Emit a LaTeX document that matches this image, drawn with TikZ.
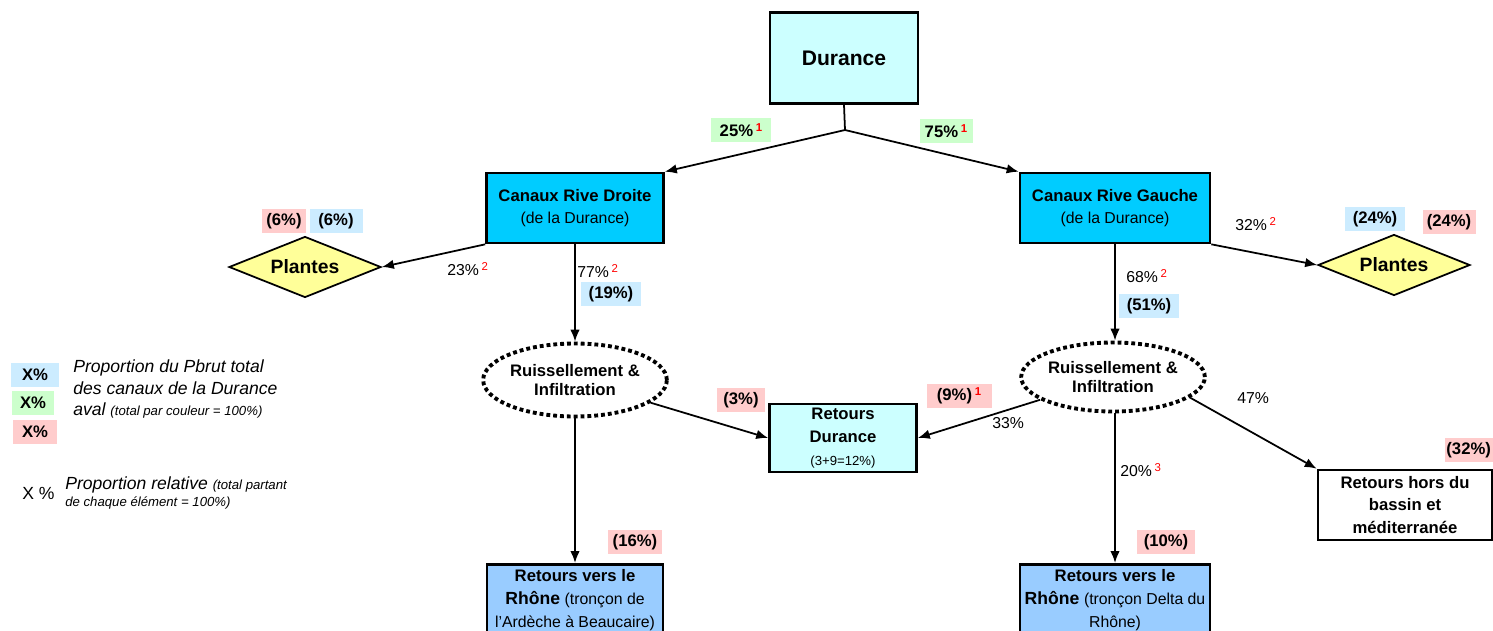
\documentclass[tikz,border=0pt]{standalone}
\usepackage{fontspec}
\setmainfont{Liberation Sans}
\usetikzlibrary{arrows.meta,shapes.geometric}
\definecolor{PaleCyan}{HTML}{CCFFFF}
\definecolor{CanalBlue}{HTML}{00CCFF}
\definecolor{PlantYellow}{HTML}{FFFF99}
\definecolor{RhoneBlue}{HTML}{99CCFF}
\definecolor{TagBlue}{HTML}{CCECFF}
\definecolor{TagGreen}{HTML}{CCFFCC}
\definecolor{TagPink}{HTML}{FFCCCC}
\definecolor{NoteRed}{HTML}{FF0000}
\newcommand{\refnum}[1]{\,\raisebox{0.6ex}{\textcolor{NoteRed}{\fontsize{6.5}{7}\selectfont #1}}}
\newcommand{\bsize}{\fontsize{9.5}{13}\selectfont}

\begin{document}
\begin{tikzpicture}[x=0.02cm,y=-0.02cm,
    box/.style={draw,line width=1.5pt,align=center,inner sep=2pt,font=\bfseries\bsize},
    plant/.style={diamond,aspect=2.5,draw,line width=1pt,fill=PlantYellow,minimum width=3.04cm,
                  minimum height=1.22cm,inner sep=0pt,font=\bfseries\fontsize{11}{13}\selectfont},
    ruis/.style={ellipse,draw,line width=2.2pt,dash pattern=on 2.2pt off 1.7pt,align=center,
                 inner sep=0pt,font=\bfseries\fontsize{9.5}{11.3}\selectfont},
    tag/.style={inner sep=0pt,minimum height=0.47cm,font=\bfseries\fontsize{9.5}{11}\selectfont},
    pct/.style={anchor=west,inner sep=0pt,font=\fontsize{9}{11}\selectfont},
    arr/.style={-{Latex[length=2.4mm,width=1.9mm]},line width=1pt}]
    \useasboundingbox (0,0) rectangle (1493,630);
    \fill[white] (0,0) rectangle (1493,630);

    \node[box,fill=PaleCyan,minimum width=2.96cm,minimum height=1.82cm,
          font=\bfseries\fontsize{12}{14}\selectfont] (dur) at (844,58) {Durance};
    \node[box,fill=CanalBlue,minimum width=3.54cm,minimum height=1.4cm] (crd) at (575,208)
        {Canaux Rive Droite\\{\mdseries\fontsize{9}{13}\selectfont(de la Durance)}};
    \node[box,fill=CanalBlue,minimum width=3.8cm,minimum height=1.4cm] (crg) at (1115,208)
        {Canaux Rive Gauche\\{\mdseries\fontsize{9}{13}\selectfont(de la Durance)}};
    \node[plant] (plL) at (305,267) {Plantes};
    \node[plant] (plR) at (1394,265) {Plantes};
    \node[ruis,minimum width=3.48cm,minimum height=1.46cm] (ruisL) at (575,380)
        {Ruissellement \&\\Infiltration};
    \node[ruis,minimum width=3.62cm,minimum height=1.38cm] (ruisR) at (1113,377)
        {Ruissellement \&\\Infiltration};
    \node[box,fill=PaleCyan,minimum width=2.94cm,minimum height=1.36cm] (retD) at (843,438)
        {Retours\\Durance\\{\mdseries\fontsize{7.5}{9}\selectfont(3+9=12\%)}};
    \node[box,fill=white,minimum width=3.48cm,minimum height=1.4cm] (retH) at (1405,505)
        {Retours hors du\\bassin et\\méditerranée};
    \node[box,fill=RhoneBlue,anchor=north,minimum width=3.52cm,inner ysep=3pt] (rhoL) at (575,563)
        {Retours vers le\\{\fontsize{10}{13}\selectfont Rhône} {\mdseries\fontsize{9}{13}\selectfont (tronçon de}\\{\mdseries\fontsize{9}{13}\selectfont l'Ardèche à Beaucaire)}};
    \node[box,fill=RhoneBlue,anchor=north,minimum width=3.8cm,inner ysep=3pt] (rhoR) at (1115,563)
        {Retours vers le\\{\fontsize{10}{13}\selectfont Rhône} {\mdseries\fontsize{9}{13}\selectfont (tronçon Delta du}\\{\mdseries\fontsize{9}{13}\selectfont Rhône)}};

    \node[tag,fill=TagGreen,minimum width=1.2cm] (t25) at (741,130) {25\%\refnum{1}};
    \node[tag,fill=TagGreen,minimum width=1.06cm] (t75) at (946,131) {75\%\refnum{1}};
    \node[tag,fill=TagPink,minimum width=0.88cm] (t6p) at (284,221) {(6\%)};
    \node[tag,fill=TagBlue,minimum width=1.06cm] (t6b) at (336,221) {(6\%)};
    \node[tag,fill=TagBlue,minimum width=1.2cm] (t19) at (611,294) {(19\%)};
    \node[tag,fill=TagBlue,minimum width=1.2cm] (t24b) at (1375,219) {(24\%)};
    \node[tag,fill=TagPink,minimum width=1.06cm] (t24p) at (1449,222) {(24\%)};
    \node[tag,fill=TagBlue,minimum width=1.2cm] (t51) at (1149,306) {(51\%)};
    \node[tag,fill=TagPink,minimum width=0.96cm] (t3) at (741,400) {(3\%)};
    \node[tag,fill=TagPink,minimum width=1.3cm] (t9) at (959,396) {(9\%)\refnum{1}};
    \node[tag,fill=TagPink,minimum width=1.08cm] (t16) at (635,542) {(16\%)};
    \node[tag,fill=TagPink,minimum width=1.16cm] (t10) at (1166,542) {(10\%)};
    \node[tag,fill=TagPink,minimum width=0.96cm,anchor=east] (t32) at (1493,450) {(32\%)};

    \node[pct] (p23) at (447,269) {23\%\refnum{2}};
    \node[pct] (p77) at (577,271) {77\%\refnum{2}};
    \node[pct] (p32) at (1235,224) {32\%\refnum{2}};
    \node[pct] (p68) at (1126,276) {68\%\refnum{2}};
    \node[pct] (p33) at (992,423) {33\%};
    \node[pct] (p47) at (1237,398) {47\%};
    \node[pct] (p20) at (1120,470) {20\%\refnum{3}};

    \node[tag,fill=TagBlue,minimum width=0.96cm] (lgB) at (35,375) {X\%};
    \node[tag,fill=TagGreen,minimum width=0.86cm] (lgG) at (33,403) {X\%};
    \node[tag,fill=TagPink,minimum width=0.9cm] (lgP) at (35,432) {X\%};
    \node[anchor=west,align=left,inner sep=0pt,font=\itshape\fontsize{10}{12}\selectfont] (lgtxt) at (73,389)
        {Proportion du Pbrut total\\des canaux de la Durance\\aval {\fontsize{7.5}{12}\selectfont(total par couleur = 100\%)}};
    \node[pct,font=\fontsize{10}{12}\selectfont] (lgX) at (22,493) {X \%};
    \node[anchor=west,align=left,inner sep=0pt,font=\itshape\fontsize{10}{9.6}\selectfont] (lgrel) at (65,493)
        {Proportion relative {\fontsize{7.5}{9.6}\selectfont(total partant}\\{\fontsize{7.5}{9.6}\selectfont de chaque élément = 100\%)}};

    \coordinate (split) at (845,130);
    \draw[line width=1pt] (dur.south) -- (split);
    \draw[arr] (split) -- (crd.north east);
    \draw[arr] (split) -- (crg.north west);
    \draw[arr] (crd.south west) -- (plL.east);
    \draw[arr] (crg.south east) -- (plR.west);
    \draw[arr] (crd.south) -- (ruisL.north);
    \draw[arr] (crg.south) -- (crg.south |- ruisR.north);
    \draw[arr] (ruisL) -- (retD.west);
    \draw[arr] (ruisR) -- (retD.east);
    \draw[arr] (ruisR.-15) -- (retH.north west);
    \draw[arr] (ruisL.south) -- (rhoL.north);
    \draw[arr] (crg.south |- ruisR.south) -- (rhoR.north);
  \end{tikzpicture}
\end{document}
